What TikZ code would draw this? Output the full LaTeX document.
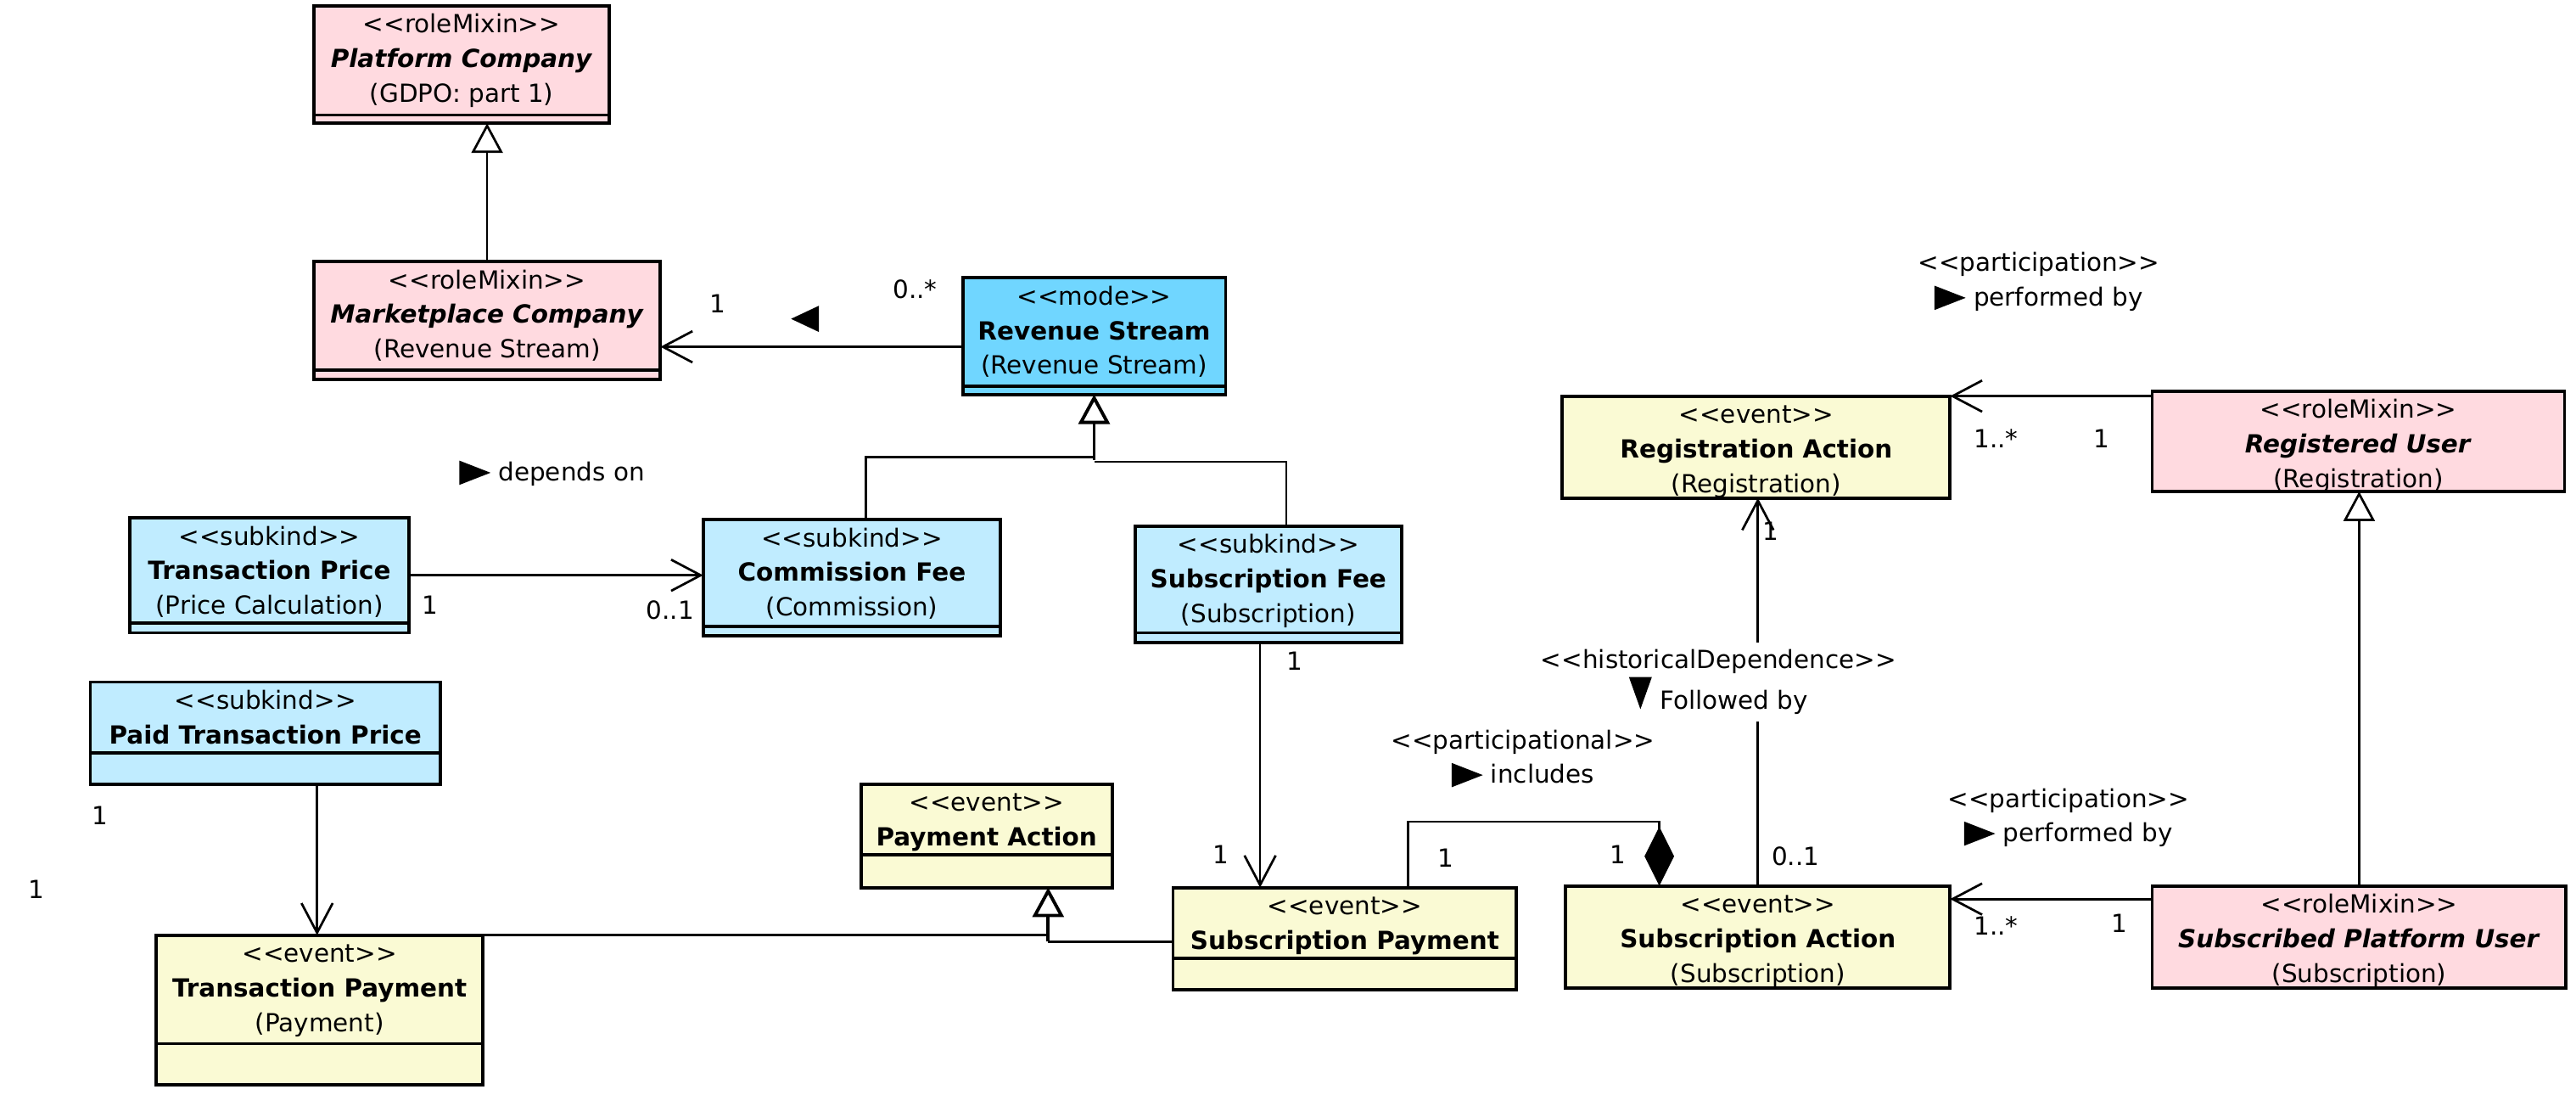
\documentclass[tikz,border=0pt]{standalone}
\usepackage{fontspec}
\usetikzlibrary{arrows.meta,calc,fit}
\newfontfamily\umlfont{DejaVu Sans}

\definecolor{rolepink}{RGB}{255,218,224}
\definecolor{subcyan}{RGB}{192,236,255}
\definecolor{modecyan}{RGB}{112,214,255}
\definecolor{eventyellow}{RGB}{250,250,212}

% stereotype in guillemet-free form
\newcommand\stereo[1]{<{}<#1>{}>}
% filled direction triangles used in association labels
\newcommand\tright{\tikz[baseline=-0.6ex]\fill (0pt,3.7pt) -- (9.5pt,0pt) -- (0pt,-3.7pt) -- cycle;}
\newcommand\tleft{\tikz[baseline=-0.6ex]\fill (0pt,4pt) -- (-8.5pt,0pt) -- (0pt,-4pt) -- cycle;}
\newcommand\tdown{\tikz[baseline=-1.2ex]\fill (-3.5pt,4.9pt) -- (0pt,-4.9pt) -- (3.5pt,4.9pt) -- cycle;}

\tikzset{
  umlframe/.style={draw, line width=1pt, inner sep=0pt, outer sep=0pt},
  umltext/.style={anchor=north, align=center, inner sep=0pt},
  lbl/.style={inner sep=0pt, align=center},
  conn/.style={line width=0.7pt},
  assoc/.style={conn, -{Straight Barb[length=9pt,width=9.5pt]}},
  gen/.style={conn, -{Triangle[length=9pt,width=9.5pt,fill=white]}},
  comp/.style={conn, -{Diamond[length=18pt,width=9pt]}},
}

% class box: name, fill, left, top, right, bottom, compartment height, text
\newcommand\umlbox[8]{%
  \node[umlframe, fill=#2, fit={(#3,#4) (#5,#6)}] (#1) {};
  \node[umltext] (#1-t) at ($(#1.north)+(0,1.5)$) {\strut #8};
  \ifnum#7>0 \draw[line width=1pt] ($(#1.south west)+(0,-#7)$) -- ($(#1.south east)+(0,-#7)$);\fi
}

\begin{document}
\begin{tikzpicture}[x=0.5pt, y=-0.5pt, font=\umlfont\fontsize{7.6}{10.5}\selectfont]
\useasboundingbox (0,0) rectangle (1568,666);

% ---- classes ----
\umlbox{pc}{rolepink}{191}{3.5}{371}{75}{5}{\stereo{roleMixin}\\\textbf{\textit{Platform Company}}\\(GDPO: part 1)}
\umlbox{mc}{rolepink}{191}{159}{402}{231}{6}{\stereo{roleMixin}\\\textbf{\textit{Marketplace Company}}\\(Revenue Stream)}
\umlbox{rs}{modecyan}{586}{169}{746}{240}{5}{\stereo{mode}\\\textbf{Revenue Stream}\\(Revenue Stream)}
\umlbox{tp}{subcyan}{79}{315}{249}{385}{6}{\stereo{subkind}\\\textbf{Transaction Price}\\(Price Calculation)}
\umlbox{cf}{subcyan}{428}{316}{609}{387}{6}{\stereo{subkind}\\\textbf{Commission Fee}\\(Commission)}
\umlbox{sf}{subcyan}{691}{320}{853}{391}{6}{\stereo{subkind}\\\textbf{Subscription Fee}\\(Subscription)}
\umlbox{ptp}{subcyan}{55}{415}{268}{477}{19}{\stereo{subkind}\\\textbf{Paid Transaction Price}}
\umlbox{pa}{eventyellow}{524}{477}{677}{540}{20}{\stereo{event}\\\textbf{Payment Action}}
\umlbox{tpay}{eventyellow}{95}{569}{294}{660}{25}{\stereo{event}\\\textbf{Transaction Payment}\\(Payment)}
\umlbox{spay}{eventyellow}{714}{540}{923}{602}{19}{\stereo{event}\\\textbf{Subscription Payment}}
\umlbox{sa}{eventyellow}{953}{539}{1187}{601}{0}{\stereo{event}\\\textbf{Subscription Action}\\(Subscription)}
\umlbox{ra}{eventyellow}{951}{241}{1187}{303}{0}{\stereo{event}\\\textbf{Registration Action}\\(Registration)}
\umlbox{ru}{rolepink}{1310}{238}{1561}{299}{0}{\stereo{roleMixin}\\\textbf{\textit{Registered User}}\\(Registration)}
\umlbox{spu}{rolepink}{1310}{539}{1562}{601}{0}{\stereo{roleMixin}\\\textbf{\textit{Subscribed Platform User}}\\(Subscription)}

% ---- generalizations ----
\draw[gen] (mc.north) -- (mc.north |- pc.south);

\draw[gen, line width=1pt] ($(rs.south)+(0,40)$) -- (rs.south);
\draw[conn] ($(cf.north west)+(99,0)$) |- ($(rs.south)+(0,38)$);
\draw[conn] ($(sf.north west)+(92,0)$) |- ($(rs.south)+(0,41)$);

\coordinate (paG) at ($(pa.south west)+(114,0)$);
\draw[gen, line width=1pt] ($(paG)+(0,33)$) -- (paG);
\draw[conn] (tpay.north east) -- (tpay.north east -| paG);
\draw[conn] ($(spay.north west)+(0,33)$) -- ($(paG)+(0,33)$);

\draw[gen] (spu.north) -- (spu.north |- ru.south);

% ---- associations ----
\coordinate (rsA) at ($(rs.north west)+(0,42)$);
\draw[assoc] (rsA) -- (rsA -| mc.east);

\draw[assoc] (tp.east) -- (tp.east -| cf.west);

\coordinate (sfB) at ($(sf.south west)+(76,0)$);
\draw[assoc] (sfB) -- (sfB |- spay.north);

\coordinate (ptpB) at ($(ptp.south west)+(138,0)$);
\draw[assoc] (ptpB) -- (ptpB |- tpay.north);

\coordinate (spC) at ($(spay.north west)+(143,0)$);
\coordinate (saC) at ($(sa.north west)+(57,0)$);
\draw[comp] (spC) |- ($(saC)+(0,-39)$) -- (saC);

\draw[assoc] (sa.north) -- (sa.north |- ra.south);

\draw[assoc] (ra.north east -| ru.west) -- (ra.north east);

\coordinate (spuA) at ($(spu.north west)+(0,8)$);
\draw[assoc] (spuA) -- (spuA -| sa.east);

% ---- association names ----
\node[lbl] (nRev) at (490,194) {\tleft};
\node[lbl] (nDep) at (336,288) {\tright\ depends on};
\node[lbl] (nInc) at (927,461.5) {\stereo{participational}\\\tright\ includes};
\node[lbl, fill=white, inner ysep=2pt] (nHist) at (1046,415) {\stereo{historicalDependence}\\\tdown\ Followed by};
\node[lbl] (nPerf1) at (1241,171.5) {\stereo{participation}\\\tright\ performed by};
\node[lbl] (nPerf2) at (1259,497.5) {\stereo{participation}\\\tright\ performed by};

% ---- multiplicities ----
\node[lbl] (m1) at (437,185) {1};
\node[lbl] (m2) at (557,176) {0..*};
\node[lbl] (m3) at (262,368) {1};
\node[lbl] (m4) at (408,371) {0..1};
\node[lbl] (m5) at (788,402) {1};
\node[lbl] (m6) at (743,520) {1};
\node[lbl] (m7) at (61,496) {1};
\node[lbl] (m8) at (22,541) {1};
\node[lbl] (m9) at (880,522) {1};
\node[lbl] (m10) at (985,520) {1};
\node[lbl] (m11) at (1078,323) {1};
\node[lbl] (m12) at (1093,521) {0..1};
\node[lbl] (m13) at (1215,267) {1..*};
\node[lbl] (m14) at (1279,267) {1};
\node[lbl] (m15) at (1215,563) {1..*};
\node[lbl] (m16) at (1290,562) {1};
\end{tikzpicture}
\end{document}
